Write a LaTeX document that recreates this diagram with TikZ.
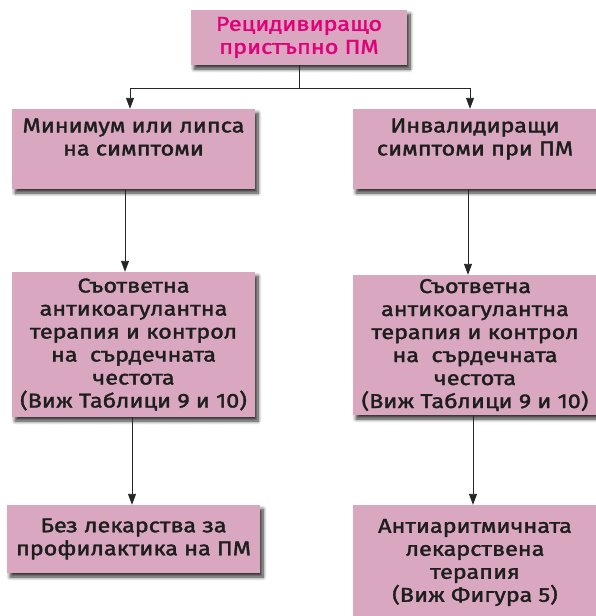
\documentclass[tikz,border=0pt]{standalone}
\usepackage{fontspec}
\setmainfont{Fira Sans}[FakeBold=1.8,FakeStretch=1.17]
\usetikzlibrary{shadows.blur,arrows.meta,calc}
\definecolor{boxpink}{RGB}{217,168,192}
\definecolor{titlemag}{RGB}{226,0,122}
\definecolor{txt}{RGB}{30,30,30}
\tikzset{
  fbox/.style={draw=none, fill=boxpink, align=center, inner sep=0pt,
    font=\fontsize{20}{23}\selectfont, text=txt,
    blur shadow={shadow xshift=3pt, shadow yshift=-4pt, shadow blur steps=8, shadow opacity=80, shadow blur radius=3.5pt}},
  conn/.style={draw=black!85, line width=0.9pt},
  arr/.style={conn, -{Triangle[length=11pt,width=8pt]}},
}
\begin{document}
\begin{tikzpicture}[x=1pt,y=-1pt]
\useasboundingbox (0,0) rectangle (596,616);
\node[fbox, minimum width=216pt, minimum height=55pt, text=titlemag] (top) at (299,37.5) {Рецидивиращо\\пристъпно ПМ};
\node[fbox, minimum width=243pt, minimum height=80pt] (L2) at (133.5,149) {Минимум или липса\\на симптоми\\[1pt]};
\node[fbox, minimum width=244pt, minimum height=80pt] (R2) at (475,149) {Инвалидиращи\\симптоми при ПМ\\[1pt]};
\node[fbox, minimum width=243pt, minimum height=145pt] (L3) at (133.5,344.5) {Съответна\\антикоагулантна\\терапия и контрол\\на\ \ сърдечната\\честота\\(Виж Таблици 9 и 10)};
\node[fbox, minimum width=244pt, minimum height=140pt] (R3) at (475,345) {Съответна\\антикоагулантна\\терапия и контрол\\на\ \ сърдечната\\честота\\(Виж Таблици 9 и 10)};
\node[fbox, minimum width=253pt, minimum height=68pt] (L4) at (133.5,539) {Без лекарства за\\профилактика на ПМ};
\node[fbox, minimum width=244pt, minimum height=115pt] (R4) at (475,562.5) {Антиаритмичната\\лекарствена\\терапия\\(Виж Фигура 5)};
\coordinate (hub) at (299,88);
\coordinate (hl) at (130,88);
\coordinate (hr) at (470,88);
\draw[conn] (top.south) -- (hub);
\draw[conn] (hl) -- (hr);
\draw[arr] (hl) -- (hl |- L2.north);
\draw[arr] (hr) -- (hr |- R2.north);
\draw[arr] ($(L2.south)+(-8.5,0)$) -- ($(L3.north)+(-8.5,0)$);
\draw[arr] ($(L3.south)+(-1.5,0)$) -- ($(L4.north)+(-1.5,0)$);
\draw[arr] ($(R2.south)+(-7,0)$) -- ($(R3.north)+(-7,0)$);
\draw[arr] ($(R3.south)+(-2,0)$) -- ($(R4.north)+(-2,0)$);
\end{tikzpicture}
\end{document}
